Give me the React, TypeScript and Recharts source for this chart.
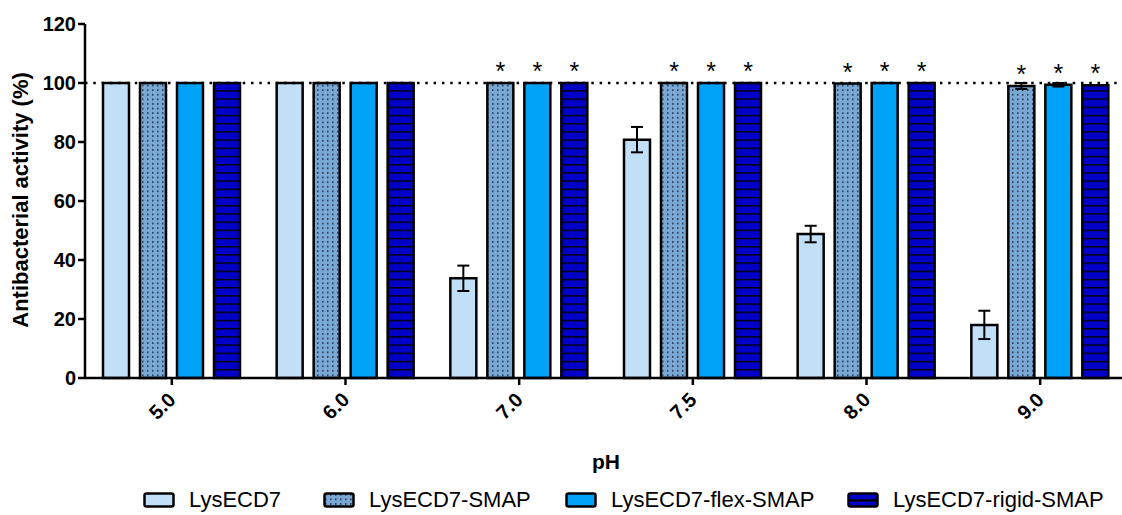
import { BarChart, Bar, XAxis, YAxis, ReferenceLine, ErrorBar, LabelList, Legend, Label } from 'recharts'

const phLabels = ['5.0', '6.0', '7.0', '7.5', '8.0', '9.0']
const lysecd7 = [100, 100, 33.8, 80.8, 48.8, 18]
const lysecd7Err = [0, 0, 4.3, 4.3, 2.8, 4.8]
const smap = [100, 100, 100, 100, 99.8, 99]
const smapErr = [0, 0, 0, 0, 0, 1]
const flex = [100, 100, 100, 100, 100, 99.4]
const flexErr = [0, 0, 0, 0, 0, 0.6]
const rigid = [100, 100, 100, 100, 100, 99.2]
const significant = [false, false, true, true, true, true]
const yTicks = [0, 20, 40, 60, 80, 100, 120]

const FONT = 'Arial, "Liberation Sans", Helvetica, sans-serif'

const chartData = phLabels.map((ph, i) => ({
  ph,
  lysecd7: lysecd7[i],
  lysecd7Err: lysecd7Err[i],
  smap: smap[i],
  smapErr: smapErr[i],
  flex: flex[i],
  flexErr: flexErr[i],
  rigid: rigid[i],
}))

const SERIES = [
  { key: 'lysecd7', name: 'LysECD7', fill: '#C2DFF8' },
  { key: 'smap', name: 'LysECD7-SMAP', fill: 'url(#dots)' },
  { key: 'flex', name: 'LysECD7-flex-SMAP', fill: '#00A2F8' },
  { key: 'rigid', name: 'LysECD7-rigid-SMAP', fill: 'url(#stripes)' },
]

const XTick = ({ x, y, payload }: any) => (
  <text
    x={x + 5}
    y={y + 15}
    transform={`rotate(-45, ${x + 5}, ${y + 15})`}
    textAnchor="end"
    fontFamily={FONT}
    fontWeight="bold"
    fontSize={20}
    fill="#000"
  >
    {payload.value}
  </text>
)

// asterisk over significant bars
const Star = (props: any) => {
  const { x, y, width, index } = props
  if (!significant[index]) return null
  return (
    <text x={x + width / 2} y={y - 3} textAnchor="middle" fontFamily={FONT} fontSize={25} fill="#000">
      *
    </text>
  )
}

const LegendContent = () => (
  <div style={{ position: 'relative', height: 30, fontFamily: FONT, fontSize: 22, color: '#000' }}>
    {SERIES.map((s, i) => {
      const lefts = [143, 323, 565, 847]
      return (
        <div key={s.key} style={{ position: 'absolute', left: lefts[i], top: 0, height: 30, display: 'flex', alignItems: 'center' }}>
          <svg width={32} height={16} style={{ marginRight: 14 }}>
            <rect x={1.5} y={1.5} width={29} height={13} rx={2} fill={s.fill} stroke="#000" strokeWidth={2.5} />
            {s.key === 'rigid' && <line x1={2} x2={30} y1={8} y2={8} stroke="#000" strokeWidth={1.5} />}
          </svg>
          <span>{s.name}</span>
        </div>
      )
    })}
  </div>
)

export default function App() {
  return (
    <div style={{ position: 'absolute', left: 0, top: 0, width: 1122, height: 515, overflow: 'hidden', background: '#fff' }}>
      <BarChart
        width={1130}
        height={515}
        data={chartData}
        margin={{ top: 24, right: 3, bottom: 0, left: 0 }}
        barSize={26}
        barGap={11}
      >
        <defs>
          <pattern id="dots" patternUnits="userSpaceOnUse" width={5} height={4.6}>
            <rect width={5} height={4.6} fill="#79A8D5" />
            <rect x={2} y={2} width={1.5} height={1.5} fill="#1A2840" />
          </pattern>
          <pattern id="stripes" patternUnits="userSpaceOnUse" width={10} height={8.2}>
            <rect width={10} height={8.2} fill="#0000C8" />
            <rect y={0} width={10} height={1.4} fill="#000" />
          </pattern>
        </defs>
        <XAxis
          dataKey="ph"
          height={107}
          tick={<XTick />}
          tickSize={7}
          tickMargin={1}
          axisLine={{ stroke: '#000', strokeWidth: 2.5 }}
          tickLine={{ stroke: '#000', strokeWidth: 2.5 }}
        >
          <Label
            content={({ viewBox }: any) => (
              <text
                x={viewBox.x + viewBox.width / 2}
                y={viewBox.y + 91}
                textAnchor="middle"
                fontFamily={FONT}
                fontWeight="bold"
                fontSize={21}
                fill="#000"
              >
                pH
              </text>
            )}
          />
        </XAxis>
        <YAxis
          width={85}
          domain={[0, 120]}
          ticks={yTicks}
          interval={0}
          tickSize={7}
          tickMargin={2}
          axisLine={{ stroke: '#000', strokeWidth: 2.5 }}
          tickLine={{ stroke: '#000', strokeWidth: 2.5 }}
          tick={{ fontFamily: FONT, fontWeight: 'bold', fontSize: 20, fill: '#000' }}
        >
          <Label
            content={({ viewBox }: any) => {
              const cx = 20
              const cy = viewBox.y + viewBox.height / 2 - 1
              return (
                <text
                  x={cx}
                  y={cy}
                  transform={`rotate(-90, ${cx}, ${cy})`}
                  textAnchor="middle"
                  dominantBaseline="central"
                  fontFamily={FONT}
                  fontWeight="bold"
                  fontSize={22}
                  fill="#000"
                >
                  Antibacterial activity (%)
                </text>
              )
            }}
          />
        </YAxis>
        <Legend verticalAlign="bottom" height={30} content={<LegendContent />} />
        {SERIES.map((s) => (
          <Bar
            key={s.key}
            dataKey={s.key}
            name={s.name}
            fill={s.fill}
            stroke="#000"
            strokeWidth={2.5}
            isAnimationActive={false}
          >
            {s.key === 'lysecd7' && (
              <ErrorBar dataKey="lysecd7Err" width={6} stroke="#000" strokeWidth={2} direction="y" />
            )}
            {s.key === 'smap' && <ErrorBar dataKey="smapErr" width={6} stroke="#000" strokeWidth={2} direction="y" />}
            {s.key === 'flex' && <ErrorBar dataKey="flexErr" width={6} stroke="#000" strokeWidth={2} direction="y" />}
            {s.key !== 'lysecd7' && <LabelList dataKey={s.key} content={<Star />} />}
          </Bar>
        ))}
        <ReferenceLine
          y={100}
          stroke="#000"
          strokeWidth={2.5}
          strokeDasharray="2.5 5.8"
          ifOverflow="extendDomain"
        />
      </BarChart>
    </div>
  )
}
